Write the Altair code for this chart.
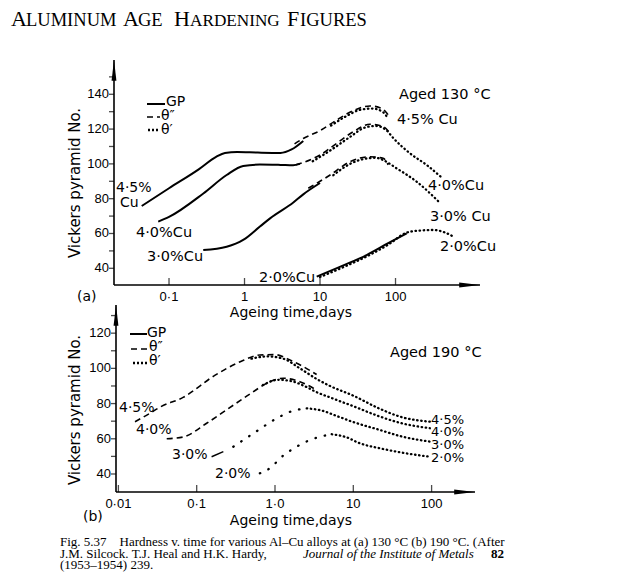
import altair as alt
import pandas as pd

W, H = 635, 576

# ---------------- panel (a): aged 130 °C ----------------
A_T_DOMAIN = [0.01868, 1315.0]
A_HV_DOMAIN = [30.4, 159.7]
A_T_TICKS = [0.1, 1, 10, 100]
A_T_LABELS = ["0·1", "1", "10", "100"]
A_HV_TICKS = [40, 50, 60, 70, 80, 90, 100, 110, 120, 130, 140, 150]
A_HV_LABELS = [40, 60, 80, 100, 120, 140]

A45_GP_T = [0.0435, 0.1, 0.25, 0.42, 0.55, 0.8, 1.5, 3.0, 4.2, 6.0]
A45_GP_HV = [75.8, 86.0, 97.0, 104.0, 106.3, 106.8, 106.5, 106.3, 108.3, 113.2]
A45_TH2_T = [4.6, 6.0, 10.0, 16.6, 27.6, 45.9, 62.0, 74.0, 82.0]
A45_TH2_HV = [111.5, 114.6, 119.1, 125.2, 130.6, 133.3, 132.3, 130.0, 127.5]
A45_TH1_T = [14.0, 22.0, 35.0, 50.0, 68.0, 80.0]
A45_TH1_HV = [122.0, 127.3, 131.2, 131.8, 129.8, 126.0]

A40_GP_T = [0.072, 0.1, 0.285, 0.58, 0.96, 1.6, 3.0, 4.4, 5.4]
A40_GP_HV = [66.8, 69.5, 83.0, 93.6, 98.8, 99.6, 99.4, 99.2, 100.0]
A40_TH2_T = [4.8, 6.0, 10.0, 16.6, 27.6, 45.9, 68.7, 84.6]
A40_TH2_HV = [99.5, 100.8, 105.1, 111.8, 118.5, 122.8, 121.4, 117.6]
A40_TH1_T = [8.0, 14.0, 25.0, 40.0, 55.0, 75.0, 94.0, 155.0, 258.0, 420.0]
A40_TH1_HV = [101.5, 108.0, 115.5, 121.0, 121.8, 119.5, 114.7, 106.1, 99.4, 91.7]

A30_GP_T = [0.284, 0.58, 0.96, 1.6, 2.18, 4.43, 6.0, 10.0]
A30_GP_HV = [50.5, 52.4, 56.3, 64.0, 68.7, 77.8, 82.5, 89.0]
A30_TH2_T = [7.0, 10.0, 13.6, 25.0, 45.9, 68.7, 80.0]
A30_TH2_HV = [86.0, 90.0, 93.6, 101.3, 104.1, 103.2, 99.4]
A30_TH1_T = [15.0, 25.0, 40.0, 55.0, 70.0, 103.0, 190.0, 390.0]
A30_TH1_HV = [93.5, 100.0, 103.0, 103.5, 102.0, 97.5, 89.8, 77.5]

A20_GP_T = [9.04, 20.0, 41.4, 80.0, 140.7]
A20_GP_HV = [35.2, 41.5, 47.6, 54.4, 60.1]
A20_TH1_T = [10.0, 20.0, 41.4, 80.0, 140.7, 200.0, 317.0, 450.0, 583.0]
A20_TH1_HV = [35.0, 40.5, 46.8, 53.6, 60.5, 61.6, 62.0, 60.6, 58.2]

# ---------------- panel (b): aged 190 °C ----------------
B_T_DOMAIN = [0.00932, 358.3]
B_HV_DOMAIN = [29.77, 136.0]
B_T_TICKS = [0.01, 0.1, 1, 10, 100]
B_T_LABELS = ["0·01", "0·1", "1·0", "10", "100"]
B_HV_TICKS = [40, 50, 60, 70, 80, 90, 100, 110, 120, 130]
B_HV_LABELS = [40, 60, 80, 100, 120]

B45_TH2_T = [0.0163, 0.0253, 0.034, 0.067, 0.17, 0.36, 0.64, 1.0, 1.6, 2.3, 3.4]
B45_TH2_HV = [69.7, 74.5, 78.0, 83.5, 96.0, 103.8, 107.6, 107.8, 104.5, 101.0, 96.5]
B45_TH1_T = [0.5, 0.8, 1.28, 2.08, 3.4, 5.04, 10.0, 21.9, 40.0, 95.0]
B45_TH1_HV = [105.5, 106.8, 105.5, 100.0, 94.0, 90.0, 84.5, 77.0, 72.5, 69.7]

B40_TH2_T = [0.0414, 0.067, 0.134, 0.24, 0.48, 0.86, 1.28, 2.08, 3.4]
B40_TH2_HV = [60.0, 61.0, 68.8, 76.4, 85.5, 92.4, 94.4, 92.4, 87.7]
B40_TH1_T = [0.7, 1.1, 1.6, 2.5, 3.4, 5.04, 10.0, 21.9, 40.0, 95.0]
B40_TH1_HV = [90.5, 93.5, 92.8, 89.5, 86.5, 83.5, 78.5, 72.6, 69.0, 66.0]

B30_LEAD_T = [0.155, 0.219]
B30_LEAD_HV = [49.8, 52.7]
B30_RISE_T = [0.293, 0.53, 1.05, 1.6, 2.54]
B30_RISE_HV = [55.5, 63.1, 71.6, 75.5, 77.3]
B30_FALL_T = [2.54, 4.0, 6.1, 10.0, 21.9, 40.0, 95.0]
B30_FALL_HV = [77.3, 76.0, 73.0, 69.5, 65.0, 61.5, 58.4]

B20_RISE_T = [0.64, 0.91, 1.16, 1.89, 3.0, 5.3]
B20_RISE_HV = [40.4, 44.1, 48.9, 55.5, 59.8, 62.6]
B20_FALL_T = [5.3, 8.0, 12.2, 21.9, 40.0, 95.0]
B20_FALL_HV = [62.6, 61.0, 57.4, 54.6, 52.3, 49.8]

A_CURVES = [
    ("a45gp", "solid", A45_GP_T, A45_GP_HV), ("a45t2", "dash", A45_TH2_T, A45_TH2_HV),
    ("a45t1", "dot", A45_TH1_T, A45_TH1_HV),
    ("a40gp", "solid", A40_GP_T, A40_GP_HV), ("a40t2", "dash", A40_TH2_T, A40_TH2_HV),
    ("a40t1", "dot", A40_TH1_T, A40_TH1_HV),
    ("a30gp", "solid", A30_GP_T, A30_GP_HV), ("a30t2", "dash", A30_TH2_T, A30_TH2_HV),
    ("a30t1", "dot", A30_TH1_T, A30_TH1_HV),
    ("a20gp", "solid", A20_GP_T, A20_GP_HV), ("a20t1", "dot", A20_TH1_T, A20_TH1_HV),
]
B_CURVES = [
    ("b45t2", "dash", B45_TH2_T, B45_TH2_HV), ("b45t1", "dot", B45_TH1_T, B45_TH1_HV),
    ("b40t2", "dash", B40_TH2_T, B40_TH2_HV), ("b40t1", "dot", B40_TH1_T, B40_TH1_HV),
    ("b30ld", "lead", B30_LEAD_T, B30_LEAD_HV), ("b30r", "sparse", B30_RISE_T, B30_RISE_HV),
    ("b30f", "dot", B30_FALL_T, B30_FALL_HV),
    ("b20r", "sparse", B20_RISE_T, B20_RISE_HV), ("b20f", "dot", B20_FALL_T, B20_FALL_HV),
]

STYLE_PROPS = {
    "solid": dict(strokeWidth=2.0),
    "lead": dict(strokeWidth=1.4),
    "dash": dict(strokeWidth=1.6, strokeDash=[6, 4]),
    "dot": dict(strokeWidth=2.3, strokeDash=[0.5, 3.6], strokeCap="round"),
    "sparse": dict(strokeWidth=2.3, strokeDash=[0.5, 9], strokeCap="round"),
}

# ---------------- layout (pixels) ----------------
A_T_RANGE, A_HV_RANGE = [114, 480], [285, 60]
B_T_RANGE, B_HV_RANGE = [116, 475], [492, 305]
FIG_FONT = "DejaVu Sans"
TICK_FONT = "Liberation Sans"

UP_ARROW = "M0,0L0.28,2.4L-0.28,2.4Z"
RIGHT_ARROW = "M0,0L-2.4,-0.28L-2.4,0.28Z"


def curve_frame(curves):
    rows = []
    for name, style, ts, hvs in curves:
        for t, hv in zip(ts, hvs):
            rows.append({"curve": name, "style": style, "t": t, "hv": hv})
    return pd.DataFrame(rows)


def panel(curves, t_dom, t_rng, hv_dom, hv_rng, t_ticks, t_labels, hv_ticks, hv_labels):
    xs = alt.Scale(type="log", domain=t_dom, range=t_rng, nice=False)
    ys = alt.Scale(domain=hv_dom, range=hv_rng, nice=False, zero=False)

    def X(f):
        return alt.X(f, scale=xs, axis=None)

    def Y(f):
        return alt.Y(f, scale=ys, axis=None)

    df = curve_frame(curves)
    layers = []
    for style, props in STYLE_PROPS.items():
        sub = df[df["style"] == style]
        if sub.empty:
            continue
        layers.append(
            alt.Chart(sub).mark_line(color="black", interpolate="monotone", **props).encode(
                x=X("t:Q"), y=Y("hv:Q"), detail="curve:N")
        )
    # axis lines
    ydom_df = pd.DataFrame({"t": [t_dom[0]], "hv": [hv_dom[0]], "hv2": [hv_dom[1]]})
    layers.append(alt.Chart(ydom_df).mark_rule(color="black", strokeWidth=1.6).encode(
        x=X("t:Q"), y=Y("hv:Q"), y2="hv2:Q"))
    xdom_df = pd.DataFrame({"t": [t_dom[0]], "t2": [t_dom[1]], "hv": [hv_dom[0]]})
    layers.append(alt.Chart(xdom_df).mark_rule(color="black", strokeWidth=1.6).encode(
        x=X("t:Q"), x2="t2:Q", y=Y("hv:Q")))
    # x ticks (pointing inward) and labels
    xt_df = pd.DataFrame({"t": t_ticks, "hv": [hv_dom[0]] * len(t_ticks), "label": t_labels})
    layers.append(alt.Chart(xt_df).mark_tick(orient="vertical", size=7, thickness=1.3,
                                             yOffset=-3.5, color="black").encode(
        x=X("t:Q"), y=Y("hv:Q")))
    layers.append(alt.Chart(xt_df).mark_text(align="center", baseline="middle", dy=12,
                                             font=TICK_FONT, fontSize=13, color="black").encode(
        x=X("t:Q"), y=Y("hv:Q"), text="label:N"))
    # y ticks (pointing outward) and labels
    yt_df = pd.DataFrame({"t": [t_dom[0]] * len(hv_ticks), "hv": hv_ticks})
    layers.append(alt.Chart(yt_df).mark_tick(orient="horizontal", size=5, thickness=1.3,
                                             xOffset=-2.5, color="black").encode(
        x=X("t:Q"), y=Y("hv:Q")))
    yl_df = pd.DataFrame({"t": [t_dom[0]] * len(hv_labels), "hv": hv_labels,
                          "label": [str(v) for v in hv_labels]})
    layers.append(alt.Chart(yl_df).mark_text(align="right", baseline="middle", dx=-5,
                                             font=TICK_FONT, fontSize=13, color="black").encode(
        x=X("t:Q"), y=Y("hv:Q"), text="label:N"))
    # axis arrows
    up_df = pd.DataFrame({"t": [t_dom[0]], "hv": [hv_dom[1]]})
    right_df = pd.DataFrame({"t": [t_dom[1]], "hv": [hv_dom[0]]})
    for adf, shape in ((up_df, UP_ARROW), (right_df, RIGHT_ARROW)):
        layers.append(
            alt.Chart(adf).mark_point(shape=shape, size=300, filled=True, color="black",
                                      opacity=1, strokeWidth=0).encode(
                x=X("t:Q"), y=Y("hv:Q"))
        )
    return alt.layer(*layers)


panel_a = panel(A_CURVES, A_T_DOMAIN, A_T_RANGE, A_HV_DOMAIN, A_HV_RANGE,
                A_T_TICKS, A_T_LABELS, A_HV_TICKS, A_HV_LABELS)
panel_b = panel(B_CURVES, B_T_DOMAIN, B_T_RANGE, B_HV_DOMAIN, B_HV_RANGE,
                B_T_TICKS, B_T_LABELS, B_HV_TICKS, B_HV_LABELS)

# ---------------- legend keys (pixel layout) ----------------
KEY_ROWS = [
    ("solid", 147, 165, 104), ("dash", 147, 160, 117), ("dot", 148, 160, 130),
    ("solid", 130, 147, 334), ("dash", 131, 147, 349), ("dot", 133, 147, 363),
]
key_layers = []
for style in ("solid", "dash", "dot"):
    kdf = pd.DataFrame([{"x1": a, "x2": b, "y": c} for s, a, b, c in KEY_ROWS if s == style])
    props = dict(STYLE_PROPS[style])
    props.pop("strokeCap", None)
    if style == "dot":
        props["strokeDash"] = [2, 2]
    key_layers.append(
        alt.Chart(kdf).mark_rule(color="black", **props).encode(
            x=alt.X("x1:Q", scale=None, axis=None), x2="x2:Q",
            y=alt.Y("y:Q", scale=None, axis=None))
    )

# ---------------- text annotations (pixel layout) ----------------
FIG_TEXT = [
    ("GP", 166, 102, 14), ("θ″", 161, 116, 14), ("θ′", 161, 130, 14),
    ("4·5%", 116, 188, 14), ("Cu", 120, 203, 14),
    ("4·0%Cu", 136, 233, 14.5), ("3·0%Cu", 147, 257, 14.5), ("2·0%Cu", 259, 278, 14.5),
    ("Aged 130 °C", 399, 95, 14.5), ("4·5% Cu", 397, 120, 14.5), ("4·0%Cu", 428, 186, 14.5),
    ("3·0% Cu", 430, 217, 14.5), ("2·0%Cu", 440, 247, 14.5), ("(a)", 77, 297, 14),
    ("GP", 147, 333, 14), ("θ″", 149, 347, 14), ("θ′", 149, 361, 14),
    ("4·5%", 119, 408, 14), ("4·0%", 136, 430, 14), ("3·0%", 172, 455, 14), ("2·0%", 215, 474, 14),
    ("Aged 190 °C", 390, 353, 14.5),
    ("4·5%", 431, 420, 13), ("4·0%", 431, 432, 13), ("3·0%", 431, 445, 13), ("2·0%", 431, 458, 13),
    ("(b)", 83, 517, 14),
]
AXIS_TITLES_X = [("Ageing time,days", 291, 313), ("Ageing time,days", 291, 521)]
AXIS_TITLES_Y = [("Vickers pyramid No.", 75, 183), ("Vickers pyramid No.", 75, 410)]
TITLE_TEXT = [
    ("A", 11, 22), ("LUMINUM", 26, 18.5), ("A", 123, 22), ("GE", 138, 18.5),
    ("H", 174, 22), ("ARDENING", 190, 17.2), ("F", 287, 22), ("IGURES", 300, 18.5),
]
CAP_FS = 13
CAPTION_REG = [
    ("Fig. 5.37\u2003Hardness v. time for various Al–Cu alloys at (a) 130 °C (b) 190 °C. (After", 60, 542),
    ("J.M. Silcock. T.J. Heal and H.K. Hardy,", 60, 553.5),
    ("(1953–1954) 239.", 60, 565),
]
CAPTION_IT = [("Journal of the Institute of Metals", 303, 553.5)]
CAPTION_BOLD = [("82", 491, 553.5)]


def text_layer(rows, font, baseline="middle", align="left", style=None, weight=None,
               size=None, angle=None):
    if size is None:
        df = pd.DataFrame(rows, columns=["text", "x", "y", "fs"])
    else:
        df = pd.DataFrame(rows, columns=["text", "x", "y"])
        df["fs"] = size
    kw = dict(align=align, baseline=baseline, font=font, color="black")
    if style:
        kw["fontStyle"] = style
    if weight:
        kw["fontWeight"] = weight
    if angle is not None:
        kw["angle"] = angle
    return alt.Chart(df).mark_text(**kw).encode(
        x=alt.X("x:Q", scale=None, axis=None),
        y=alt.Y("y:Q", scale=None, axis=None),
        text="text:N",
        size=alt.Size("fs:Q", scale=None, legend=None),
    )


title_rows = [(t, x, 26, s) for t, x, s in TITLE_TEXT]
texts = [
    text_layer(FIG_TEXT, FIG_FONT),
    text_layer(AXIS_TITLES_X, FIG_FONT, align="center", size=14),
    text_layer(AXIS_TITLES_Y, FIG_FONT, align="center", size=15, angle=270),
    text_layer(title_rows, "Liberation Serif", baseline="alphabetic"),
    text_layer(CAPTION_REG, "Liberation Serif", size=CAP_FS),
    text_layer(CAPTION_IT, "Liberation Serif", style="italic", size=CAP_FS),
    text_layer(CAPTION_BOLD, "Liberation Serif", weight="bold", size=CAP_FS),
]

chart = (
    alt.layer(panel_a, panel_b, *key_layers, *texts)
    .resolve_scale(x="independent", y="independent")
    .properties(width=W, height=H, padding=0, autosize="none", background="white")
    .configure_view(stroke=None)
)

chart.save("out.html", embed_options={"renderer": "svg", "actions": False})
